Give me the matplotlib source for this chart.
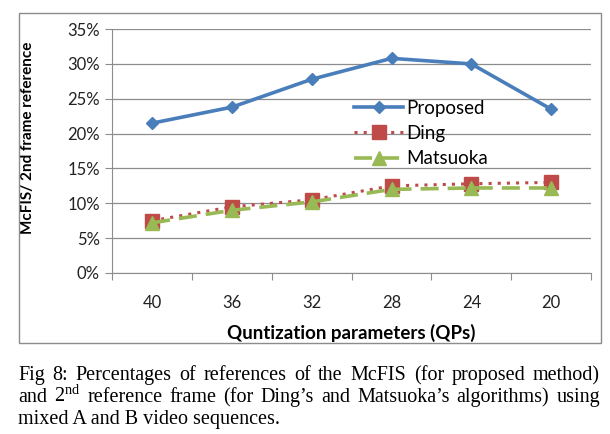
import matplotlib
matplotlib.use("Agg")
import matplotlib.pyplot as plt
from matplotlib.patches import Rectangle
from matplotlib.ticker import FuncFormatter, FixedLocator

qp_labels = ["40", "36", "32", "28", "24", "20"]
proposed = [21.5, 23.8, 27.8, 30.8, 30.0, 23.5]
ding = [7.5, 9.5, 10.5, 12.5, 12.8, 13.0]
matsuoka = [7.2, 9.0, 10.2, 12.0, 12.2, 12.2]

caption = [
    "Fig 8: Percentages of references of the McFIS (for proposed method)",
    "and 2$^{\\mathrm{nd}}$ reference frame (for Ding\u2019s and Matsuoka\u2019s algorithms) using",
    "mixed A and B video sequences.",
]

plt.rcParams['font.family'] = ['Lato', 'DejaVu Sans']
plt.rcParams['mathtext.fontset'] = 'custom'
plt.rcParams['mathtext.rm'] = 'Liberation Serif'

fig = plt.figure(figsize=(6.1, 4.34), dpi=100)
fig.patch.set_facecolor('white')

# chart frame
fig.patches.append(Rectangle((0.031, 0.210), 0.954, 0.760, transform=fig.transFigure,
                             fill=False, edgecolor='#8c8c8c', linewidth=1.0))

ax = fig.add_axes([0.184, 0.371, 0.785, 0.562])
x = list(range(len(qp_labels)))

ax.plot(x, proposed, color='#4a7ebb', lw=2.6, marker='D', ms=6.5, label='Proposed', zorder=4)
ax.plot(x, ding, color='#be4b48', lw=2.2, ls=(0, (1, 2)), marker='s', ms=10,
        label='Ding', zorder=3)
ax.plot(x, matsuoka, color='#98b954', lw=2.6, ls=(0, (5, 2.5)), marker='^', ms=10,
        label='Matsuoka', zorder=3)

ax.set_xlim(-0.5, len(qp_labels) - 0.5)
ax.set_ylim(0, 35)
ax.set_yticks(range(0, 36, 5))
ax.yaxis.set_major_formatter(FuncFormatter(lambda v, p: f"{int(v)}%"))
ax.yaxis.grid(True, color='#8c8c8c', lw=0.9)
ax.set_axisbelow(True)

ax.xaxis.set_major_locator(FixedLocator([i - 0.5 for i in range(len(qp_labels) + 1)]))
ax.xaxis.set_minor_locator(FixedLocator(x))
ax.set_xticklabels([])
ax.set_xticklabels(qp_labels, minor=True)
ax.tick_params(axis='x', which='major', length=5, color='#8c8c8c', direction='out')
ax.tick_params(axis='x', which='minor', length=0, pad=16, labelsize=12, labelcolor='#222222')
ax.tick_params(axis='y', length=5, color='#8c8c8c', labelsize=12, labelcolor='#222222', pad=4)

for s in ['top', 'right']:
    ax.spines[s].set_visible(False)
for s in ['left', 'bottom']:
    ax.spines[s].set_color('#8c8c8c')

ax.set_xlabel("Quntization parameters (QPs)", fontsize=13.5, fontweight='bold')
ax.xaxis.set_label_coords(0.5, -0.21)
ax.set_ylabel("McFIS/ 2nd frame reference", fontsize=11, fontweight='bold')
ax.yaxis.set_label_coords(-0.161, 0.553)

leg = ax.legend(loc='upper left', bbox_to_anchor=(0.47, 0.78), frameon=False,
                fontsize=13.5, handlelength=2.6, labelspacing=0.45, handletextpad=0.2)

# caption, justified across the width
fig.canvas.draw()
renderer = fig.canvas.get_renderer()
left, right = 18 / 610, 600 / 610
ys = [1 - 380 / 434, 1 - 402 / 434, 1 - 424 / 434]
for i, line in enumerate(caption):
    words = line.split(' ')
    if i == len(caption) - 1:
        fig.text(left, ys[i], line, family='Liberation Serif', fontsize=14.5, va='baseline')
        continue
    arts = [fig.text(0, ys[i], w, family='Liberation Serif', fontsize=14.5, va='baseline')
            for w in words]
    widths = [a.get_window_extent(renderer).width / fig.bbox.width for a in arts]
    gap = (right - left - sum(widths)) / (len(words) - 1)
    pos = left
    for a, w in zip(arts, widths):
        a.set_x(pos)
        pos += w + gap

fig.savefig("out.png", dpi=100)
